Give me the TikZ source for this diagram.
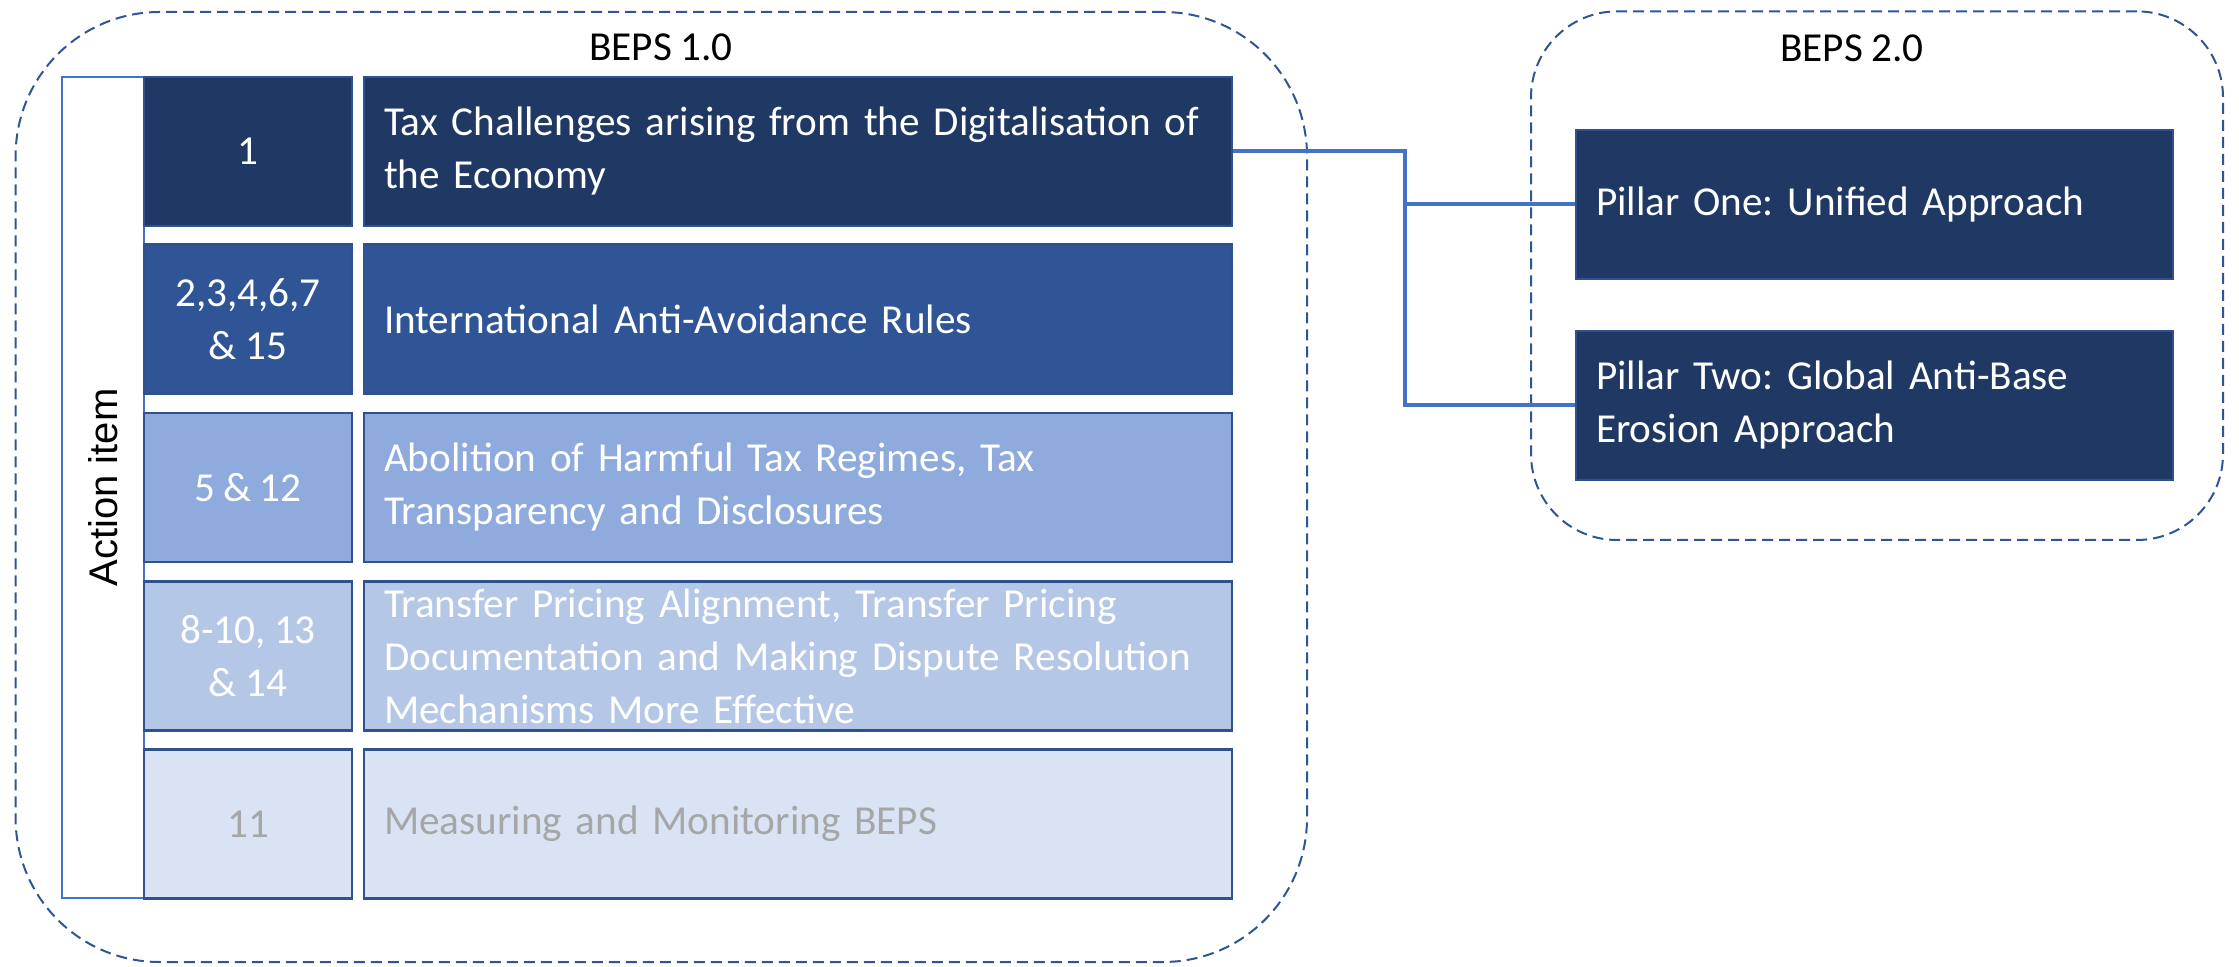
\documentclass[tikz,border=0pt]{standalone}
\usepackage{fontspec}
\setmainfont{Carlito}[WordSpace=0.9]
\newfontfamily\sidefont{Liberation Sans}
\definecolor{rowA}{HTML}{203864}
\definecolor{rowB}{HTML}{2F5597}
\definecolor{rowC}{HTML}{8FAADC}
\definecolor{rowD}{HTML}{B4C7E7}
\definecolor{rowE}{HTML}{DAE3F3}
\definecolor{boxline}{HTML}{2F528F}
\definecolor{linkblue}{HTML}{4472C4}
\definecolor{frameblue}{HTML}{2F5597}
\definecolor{mutedtext}{HTML}{A6A6A6}
\frenchspacing
\begin{document}
\begin{tikzpicture}[x=0.5pt,y=-0.5pt,
  font=\fontsize{20.6pt}{26.5pt}\selectfont,
  groupbox/.style={draw=frameblue, line width=1pt, dash pattern=on 5.5pt off 3pt, inner sep=0pt},
  numbox/.style={draw=boxline, line width=1.1pt, minimum width=104pt, minimum height=74.5pt,
    inner sep=0pt, align=center, text=white},
  textbox/.style={draw=boxline, line width=1.1pt, text width=414pt, inner xsep=10pt, inner ysep=0pt,
    minimum height=74.5pt, align=left, text=white},
  pillarbox/.style={draw=boxline, line width=1.1pt, fill=rowA, text width=278.5pt, inner xsep=10pt,
    inner ysep=0pt, minimum height=74.5pt, align=left, text=white},
  link/.style={draw=linkblue, line width=2pt}
]
\useasboundingbox (0,0) rectangle (2239,967);

% group frames
\node[groupbox, rounded corners=72pt, minimum width=645.7pt, minimum height=475pt] (beps1) at (661.3,487) {};
\node[groupbox, rounded corners=43pt, minimum width=346pt, minimum height=264.3pt] (beps2) at (1877,275.7) {};
\node (beps1label) at (661,47) {BEPS 1.0};
\node (beps2label) at (1852,48) {BEPS 2.0};

% side label column
\node[draw=linkblue, line width=0.6pt, fill=white, minimum width=41pt, minimum height=410.5pt, inner sep=0pt] (side) at (103,487.5) {};
\node[rotate=90, font=\sidefont\fontsize{20pt}{24pt}\selectfont] (sidelabel) at (103,487.5) {Action item};

% action rows
\node[numbox, fill=rowA] (n1) at (248,151.5) {1};
\node[textbox, fill=rowA] (t1) at (798,151.5) {Tax Challenges arising from the Digitalisation of\\the Economy};

\node[numbox, fill=rowB] (n2) at (248,319) {2,3,4,6,7\\\& 15};
\node[textbox, fill=rowB] (t2) at (798,319) {International Anti-Avoidance Rules};

\node[numbox, fill=rowC] (n3) at (248,487.5) {5 \& 12};
\node[textbox, fill=rowC] (t3) at (798,487.5) {Abolition of Harmful Tax Regimes, Tax\\Transparency and Disclosures};

\node[numbox, fill=rowD] (n4) at (248,656) {8-10, 13\\\& 14};
\node[textbox, fill=rowD] (t4) at (798,656) {Transfer Pricing Alignment, Transfer Pricing\\Documentation and Making Dispute Resolution\\Mechanisms More Effective};

\node[numbox, fill=rowE, text=mutedtext] (n5) at (248,824) {11};
\node[textbox, fill=rowE, text=mutedtext] (t5) at (798,824) {Measuring and Monitoring BEPS};

% BEPS 2.0 pillars
\node[pillarbox] (p1) at (1874.5,204.5) {Pillar One: Unified Approach};
\node[pillarbox] (p2) at (1874.5,405.5) {Pillar Two: Global Anti-Base\\Erosion Approach};

% elbow connectors
\coordinate (split) at (1405,151.5);
\draw[link] (t1.east) -- (split) |- (p1.west);
\draw[link] (split) |- (p2.west);
\end{tikzpicture}
\end{document}
